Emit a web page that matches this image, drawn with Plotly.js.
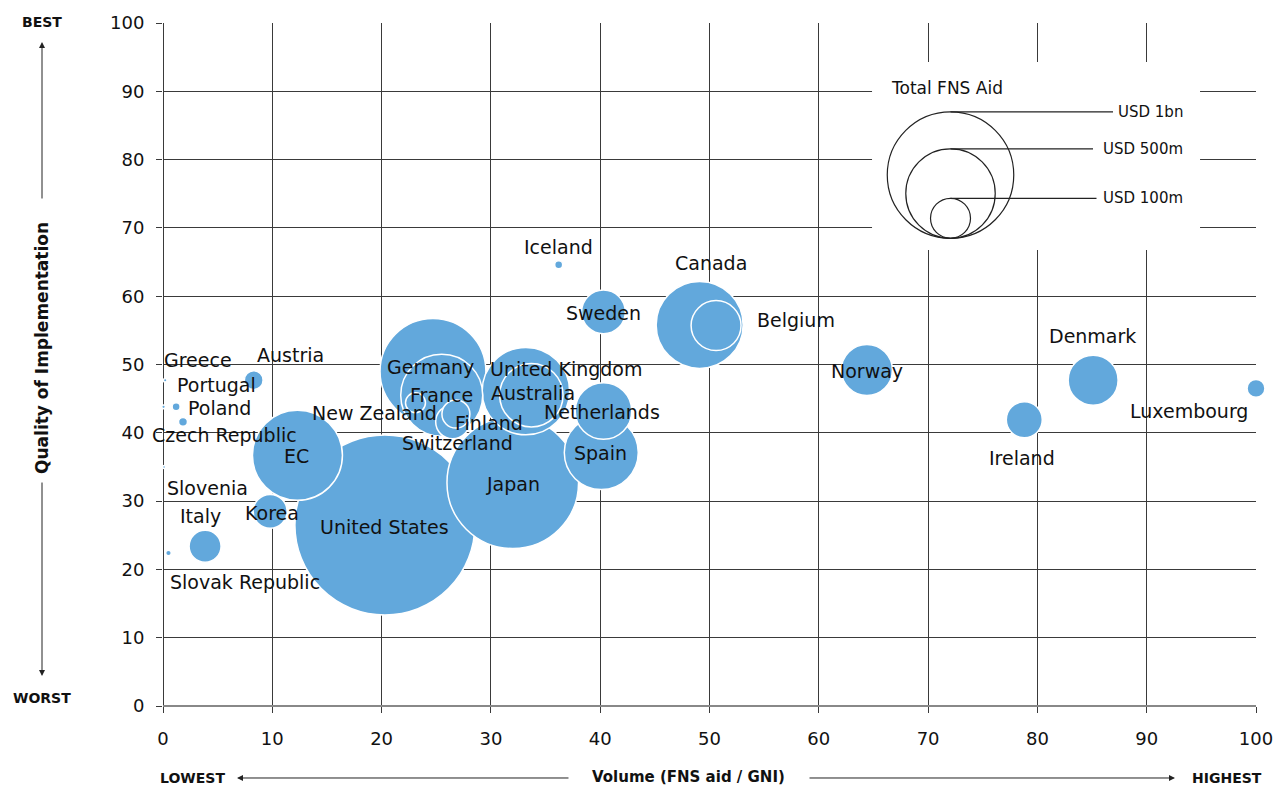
<!DOCTYPE html>
<html>
<head>
<meta charset="utf-8">
<script src="https://cdn.plot.ly/plotly-3.0.1.min.js"></script>
<style>html,body{margin:0;padding:0;background:#fff;}#chart{width:1275px;height:785px;}</style>
</head>
<body>
<div id="chart"></div>
<script>
// ---- data ----
var countries = ["United States","Japan","Germany","EC","United Kingdom","Canada","France","Spain","Australia","Netherlands","Norway","Belgium","Denmark","Sweden","Ireland","Korea","Switzerland","Italy","Finland","New Zealand","Austria","Luxembourg","Czech Republic","Poland","Iceland","Slovak Republic","Portugal","Greece","Slovenia"];
var volume  = [20.3,32.0,24.7,12.3,33.2,49.1,25.5,40.1,33.7,40.3,64.4,50.6,85.1,40.3,78.8,9.8,26.5,3.85,26.8,23.1,8.3,100,1.83,1.2,36.2,0.5,0.05,0.2,0.1];
var quality = [26.5,32.7,49.0,36.7,46.1,55.8,45.5,37.1,45.5,43.2,49.2,55.7,47.7,57.7,41.9,28.5,41.6,23.4,42.75,44.4,47.7,46.5,41.6,43.8,64.6,22.4,43.8,47.7,35.0];
var totalAid = [2025,1082,700,506,477,473,420,342,251,200,163,156,156,119,81,72,72,64,49,25,22,20,5,4,4,2,0.8,0.8,0.3];

var legendValues = [1000,500,100];
var legendLabels = ["USD 1bn","USD 500m","USD 100m"];
var xTicks = [0,10,20,30,40,50,60,70,80,90,100];
var yTicks = [0,10,20,30,40,50,60,70,80,90,100];

// ---- label offsets (pixels, style only) ----
var labelShift = [[0,-2],[0,-1],[-2,4],[-1,-1],[41,22],[11,62],[0,0],[-1,0],[2,2],[-1,-1],[0,-1],[80,6],[-1,44],[0,-1],[-2,-38],[2,-2],[5,-21],[-5,30],[33,-9],[-41,-10],[37,25],[-67,-23],[41,-13],[43,-1],[0,18],[77,-29],[53,22],[33,20],[43,-21]];

var FONT = "DejaVu Sans";
var BLUE = "#62a8dc";
var SIZEREF = 1/8; // rendered radius(px) = 2*sqrt(USD m)
function keyRadius(v){ return Math.sqrt(2 * v / SIZEREF) / 2; }

var trace = {
  type: "scatter", mode: "markers",
  x: volume, y: quality, text: countries,
  cliponaxis: false, hoverinfo: "skip",
  marker: {size: totalAid, sizemode: "area", sizeref: SIZEREF, sizemin: 1.5,
           color: BLUE, opacity: 1, line: {color: "#ffffff", width: 1.5}}
};

var annotations = [];
countries.forEach(function(c, i){
  annotations.push({x: volume[i], y: quality[i], xref: "x", yref: "y", text: c, showarrow: false,
    xanchor: "center", yanchor: "middle",
    xshift: labelShift[i][0], yshift: labelShift[i][1],
    font: {family: FONT, size: 19, color: "#111"}});
});

// axis decorations (paper coords)
function lab(t, x, y, size, extra){
  var a = {xref: "paper", yref: "paper", x: x, y: y, text: t, showarrow: false,
           xanchor: "center", yanchor: "middle",
           font: {family: FONT, size: size, color: "#111"}};
  for (var k in extra) a[k] = extra[k];
  annotations.push(a);
}
lab("<b>Quality of Implementation</b>", -0.1107, 0.5242, 17, {textangle: -90});
lab("<b>BEST</b>", -0.1107, 1.0015, 14, {});
lab("<b>WORST</b>", -0.1107, 0.0117, 14, {});
lab("<b>Volume (FNS aid / GNI)</b>", 0.481, -0.104, 15, {});
lab("<b>LOWEST</b>", 0.0274, -0.1054, 14, {});
lab("<b>HIGHEST</b>", 0.9735, -0.1054, 14, {});
function arrow(x, y, ax, ay){
  annotations.push({xref: "paper", yref: "paper", x: x, y: y, ax: ax, ay: ay, text: "",
    showarrow: true, arrowhead: 2, arrowsize: 1.2, arrowwidth: 1, arrowcolor: "#222"});
}
arrow(-0.1107, 0.9722, 0, 158);
arrow(-0.1107, 0.0439, 0, -195);
arrow(0.0677, -0.1054, 333, 0);
arrow(0.9259, -0.1054, -367, 0);

// size key
var shapes = [];
shapes.push({type: "rect", xref: "x", yref: "y", x0: 64.87, x1: 94.88, y0: 66.76, y1: 94.29,
  fillcolor: "#ffffff", line: {width: 0}, layer: "above"});
var ax0 = 72.05, ay0 = 68.48;
var lineEnd = [162.5, 142.5, 146];
legendValues.forEach(function(v, i){
  var r = keyRadius(v);
  shapes.push({type: "circle", xref: "x", yref: "y", xsizemode: "pixel", ysizemode: "pixel",
    xanchor: ax0, yanchor: ay0, x0: -r, x1: r, y0: 0, y1: 2 * r,
    line: {color: "#222", width: 1.2}, fillcolor: "rgba(0,0,0,0)", layer: "above"});
  shapes.push({type: "line", xref: "x", yref: "y", xsizemode: "pixel", ysizemode: "pixel",
    xanchor: ax0, yanchor: ay0, x0: 0, x1: lineEnd[i], y0: 2 * r, y1: 2 * r,
    line: {color: "#222", width: 1.2}, layer: "above"});
  annotations.push({xref: "x", yref: "y", x: 93.5, y: ay0 + 2 * r / 6.83, text: legendLabels[i],
    showarrow: false, xanchor: "right", yanchor: "middle", font: {family: FONT, size: 15, color: "#111"}});
});
annotations.push({xref: "x", yref: "y", x: 66.42, y: 90.48, text: "Total FNS Aid", showarrow: false,
  xanchor: "left", yanchor: "middle", font: {family: FONT, size: 17, color: "#111"}});

var axisCommon = {
  range: [0, 100], showgrid: true, gridcolor: "#3a3a3a", gridwidth: 1,
  ticks: "outside", ticklen: 6, tickcolor: "#3a3a3a", tickwidth: 1,
  tickfont: {family: FONT, size: 18, color: "#111"}, fixedrange: true, showline: false
};
var xaxis = Object.assign({}, axisCommon, {tickmode: "array", tickvals: xTicks, ticktext: xTicks.map(String),
  zeroline: true, zerolinecolor: "#3a3a3a", zerolinewidth: 1, ticklabelstandoff: 10});
var yaxis = Object.assign({}, axisCommon, {tickmode: "array", tickvals: yTicks, ticktext: yTicks.map(String),
  zeroline: true, zerolinecolor: "#888888", zerolinewidth: 2, ticklabelstandoff: 8});

var layout = {
  width: 1275, height: 785,
  margin: {l: 163, r: 19, t: 23, b: 79},
  paper_bgcolor: "#ffffff", plot_bgcolor: "#ffffff",
  showlegend: false, hovermode: false,
  xaxis: xaxis, yaxis: yaxis,
  shapes: shapes, annotations: annotations
};

Plotly.newPlot("chart", [trace], layout, {displayModeBar: false, staticPlot: true});
</script>
</body>
</html>
